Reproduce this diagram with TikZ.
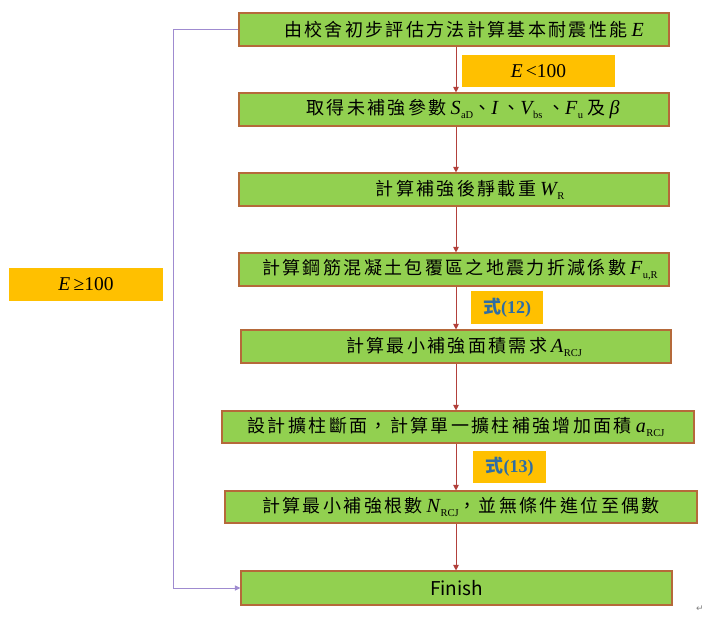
\documentclass[tikz,border=0pt]{standalone}
\usepackage{fontspec}
\setmainfont{Liberation Serif}
\newfontfamily\cjk[LetterSpace=13]{Noto Sans CJK TC}
\newfontfamily\cjkplain{Noto Sans CJK TC}
\newfontfamily\symf{DejaVu Sans}
\usetikzlibrary{arrows.meta}
\definecolor{gfill}{HTML}{92D050}
\definecolor{gedge}{HTML}{B5693A}
\definecolor{connc}{HTML}{B2403B}
\definecolor{lblc}{HTML}{FFC000}
\definecolor{eqc}{HTML}{2E6DA4}
\definecolor{purpc}{HTML}{9F8BD0}
\newcommand{\mi}[1]{{\fontsize{20}{22}\selectfont\itshape #1}}
\newcommand{\vsb}[2]{{\fontsize{20}{22}\selectfont\itshape #1}\kern0.5pt\raisebox{-4pt}{\fontsize{10.5}{11}\selectfont #2}}
\newcommand{\cj}[1]{{\cjk #1}}
\newcommand{\gap}{\hspace{4pt}}
\begin{document}
\begin{tikzpicture}[x=1pt,y=-1pt,
  stepbox/.style={draw=gedge, line width=1.1pt, fill=gfill, inner sep=0pt},
  txt/.style={inner sep=0pt, font=\fontsize{18}{20}\selectfont},
  lblbox/.style={fill=lblc, inner sep=0pt},
  lbltxt/.style={inner sep=0pt, font=\fontsize{19.5}{21}\selectfont},
  eqtxt/.style={inner sep=0pt, text=eqc, font=\fontsize{18}{20}\selectfont\bfseries},
  arrowline/.style={draw=connc, line width=0.9pt, -{Triangle[length=5.5pt,width=5.5pt]}},
  backline/.style={draw=purpc, line width=1pt, -{Triangle[length=5.5pt,width=5pt]}}
]
\useasboundingbox (0,0) rectangle (706,617);
\coordinate (cx) at (456,0);
\coordinate (lx) at (173,0);

% boxes
\node[stepbox, minimum width=430pt, minimum height=33pt] (b1) at (454,29.5) {};
\node[stepbox, minimum width=430pt, minimum height=33pt] (b2) at (454,109.5) {};
\node[stepbox, minimum width=430pt, minimum height=33pt] (b3) at (454,189.5) {};
\node[stepbox, minimum width=430pt, minimum height=33pt] (b4) at (454,269.5) {};
\node[stepbox, minimum width=430pt, minimum height=33pt] (b5) at (456,346.5) {};
\node[stepbox, minimum width=472pt, minimum height=32pt] (b6) at (458,427) {};
\node[stepbox, minimum width=472pt, minimum height=32pt] (b7) at (461,507) {};
\node[stepbox, minimum width=431pt, minimum height=34pt] (b8) at (456.5,588) {};

% box texts
\node[txt] (t1) at (464,29.5) {\cj{由校舍初步評估方法計算基本耐震性能}\gap\mi{E}};
\node[txt] (t2) at (463,109.5) {\cj{取得未補強參數}\gap\vsb{S}{aD}\cj{、}\mi{I}\ \cj{、}\vsb{V}{bs}\ \cj{、}\vsb{F}{u}\ \cj{及}\gap\mi{β}};
\node[txt] (t3) at (470,189.5) {\cj{計算補強後靜載重}\gap\vsb{W}{R}};
\node[txt] (t4) at (460,269.5) {\cj{計算鋼筋混凝土包覆區之地震力折減係數}\gap\vsb{F}{u,R}};
\node[txt] (t5) at (464,346.5) {\cj{計算最小補強面積需求}\gap\vsb{A}{RCJ}};
\node[txt] (t6) at (456,427) {\cj{設計擴柱斷面，計算單一擴柱補強增加面積}\gap\vsb{a}{RCJ}};
\node[txt] (t7) at (461,507) {\cj{計算最小補強根數}\gap\vsb{N}{RCJ}\cj{，並無條件進位至偶數}};
\node[txt, font=\cjkplain\fontsize{19}{21}\selectfont] (t8) at (456.5,588) {Finish};

% labels
\node[lblbox, minimum width=153pt, minimum height=32pt] (l1) at (538.5,71) {};
\node[lbltxt] (l1t) at (538.5,71) {\textit{E}\,<100};
\node[lblbox, minimum width=72pt, minimum height=33pt] (l2) at (507,307.5) {};
\node[eqtxt] (l2t) at (507,307.5) {{\cjkplain 式}(12)};
\node[lblbox, minimum width=73pt, minimum height=32pt] (l3) at (509.5,467) {};
\node[eqtxt] (l3t) at (509.5,467) {{\cjkplain 式}(13)};
\node[lblbox, minimum width=154pt, minimum height=33pt] (l4) at (86,284.5) {};
\node[lbltxt] (l4t) at (86,284.5) {\textit{E}\,≥100};

% connectors
\draw[arrowline] (b1.south -| cx) -- (b2.north -| cx);
\draw[arrowline] (b2.south -| cx) -- (b3.north -| cx);
\draw[arrowline] (b3.south -| cx) -- (b4.north -| cx);
\draw[arrowline] (b4.south -| cx) -- (b5.north -| cx);
\draw[arrowline] (b5.south -| cx) -- (b6.north -| cx);
\draw[arrowline] (b6.south -| cx) -- (b7.north -| cx);
\draw[arrowline] (b7.south -| cx) -- (b8.north -| cx);
\draw[backline] (b1.west) -- (b1.west -| lx) |- (b8.west);

% paragraph mark
\node[inner sep=0pt, text=gray, font=\symf\fontsize{9}{10}\selectfont] (pm) at (700,609) {↵};
\end{tikzpicture}
\end{document}
